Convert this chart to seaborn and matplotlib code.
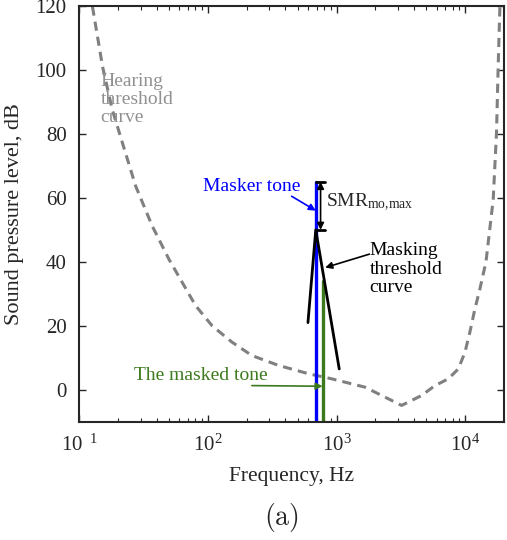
import matplotlib
matplotlib.use("Agg")
import matplotlib.pyplot as plt
import pandas as pd
import seaborn as sns

# hearing threshold (dashed grey)
hearing_freq = [12.7, 15.2, 18.1, 21.7, 27.5, 37.0, 49.9, 63.2, 80.4, 108, 154, 220, 355, 607,
                921, 1667, 3206, 4580, 5820, 7380, 8830, 9950, 10870, 11880, 13000, 14500,
                16500, 17500, 18030, 18600]
hearing_db = [119.8, 101.1, 87.6, 77.2, 63.7, 51.2, 40.8, 33.6, 26.3, 20.0, 14.9, 10.7, 7.6, 5.0,
              3.4, 0.8, -4.9, -1.8, 1.3, 3.4, 6.5, 11.7, 18.0, 25.2, 31.5, 40.0,
              59.5, 80.3, 101.0, 119.8]

# masking threshold (black)
mask_freq = [600, 690, 1050]
mask_db = [21, 50, 6.5]

masker_freq = 690
masker_db = 65
masked_freq = 780
masked_db = 34

x_ticks = [10, 100, 1000, 10000]
x_ticklabels = [r"10$^{\ \ 1}$", r"10$^{2}$", r"10$^{3}$", r"10$^{4}$"]
y_ticks = [0, 20, 40, 60, 80, 100, 120]

blue = "#0000ff"
green = "#3c7a1e"

sns.set_style("ticks")
plt.rcParams["font.family"] = ["Liberation Serif", "DejaVu Serif"]
plt.rcParams["mathtext.fontset"] = "custom"
plt.rcParams["mathtext.rm"] = "Liberation Serif"
plt.rcParams["mathtext.it"] = "Liberation Serif:italic"

fig = plt.figure(figsize=(5.07, 5.40), dpi=100)
ax = fig.add_axes([0.156, 0.219, 0.838, 0.770])

df_hear = pd.DataFrame({"freq": hearing_freq, "db": hearing_db})
sns.lineplot(data=df_hear, x="freq", y="db", ax=ax, color="#808080", lw=2.2,
             sort=False, estimator=None)
ax.lines[-1].set_dashes((3, 2))

ax.plot([masker_freq, masker_freq], [-10, masker_db], color=blue, lw=2.4)
ax.plot([masked_freq, masked_freq], [-10, masked_db], color=green, lw=2.4)

df_mask = pd.DataFrame({"freq": mask_freq, "db": mask_db})
sns.lineplot(data=df_mask, x="freq", y="db", ax=ax, color="black", lw=2,
             sort=False, estimator=None)

# SMR bracket
cap_right = 810
ax.plot([masker_freq, cap_right], [masker_db, masker_db], color="black", lw=2)
ax.plot([masker_freq, cap_right], [mask_db[1], mask_db[1]], color="black", lw=2)
arrow_kw = dict(lw=1.2, mutation_scale=10, shrinkA=0, shrinkB=0)
ax.annotate("", xy=(752, masker_db), xytext=(752, mask_db[1]),
            arrowprops=dict(arrowstyle="<|-|>", color="black", **arrow_kw))
ax.text(830, 58.5, r"SMR$_{\mathrm{mo{,}max}}$", fontsize=14, va="center", ha="left")

# annotations
ax.text(526, 63.7, "Masker tone", color=blue, fontsize=14, ha="right", va="center")
ax.annotate("", xy=(masker_freq, 56), xytext=(448, 60.5),
            arrowprops=dict(arrowstyle="-|>", color=blue, **arrow_kw))

ax.text(1800, 37.7, "Masking\nthreshold\ncurve", color="black", fontsize=14,
        ha="left", va="center", linespacing=1.1)
ax.annotate("", xy=(817, 38.2), xytext=(1800, 42.4),
            arrowprops=dict(arrowstyle="-|>", color="black", **arrow_kw))

ax.text(26.7, 4.4, "The masked tone", color=green, fontsize=14, ha="left", va="center")
ax.annotate("", xy=(masked_freq, 1.1), xytext=(220, 1.3),
            arrowprops=dict(arrowstyle="-|>", color=green, **arrow_kw))

ax.text(14.7, 90.7, "Hearing\nthreshold\ncurve", color="#909090", fontsize=14,
        ha="left", va="center", linespacing=1.1)

ax.set_xscale("log")
ax.set_xlim(10, 20000)
ax.set_ylim(-10, 120)
ax.set_xticks(x_ticks)
ax.set_xticklabels(x_ticklabels)
ax.set_yticks(y_ticks)
ax.tick_params(axis="both", which="both", direction="in", top=True, right=True,
               labelsize=15, pad=9)
ax.tick_params(which="major", length=5, width=1)
ax.tick_params(which="minor", length=3, width=0.8)
for s in ax.spines.values():
    s.set_linewidth(1.5)
ax.set_xlabel("Frequency, Hz", fontsize=15.5, labelpad=8)
ax.set_ylabel("Sound pressure level, dB", fontsize=16, labelpad=8)

fig.text(0.556, 0.041, r"$\mathrm{(a)}$", fontsize=20, ha="center", va="center",
         math_fontfamily="cm")

fig.savefig("out.png", dpi=100)
